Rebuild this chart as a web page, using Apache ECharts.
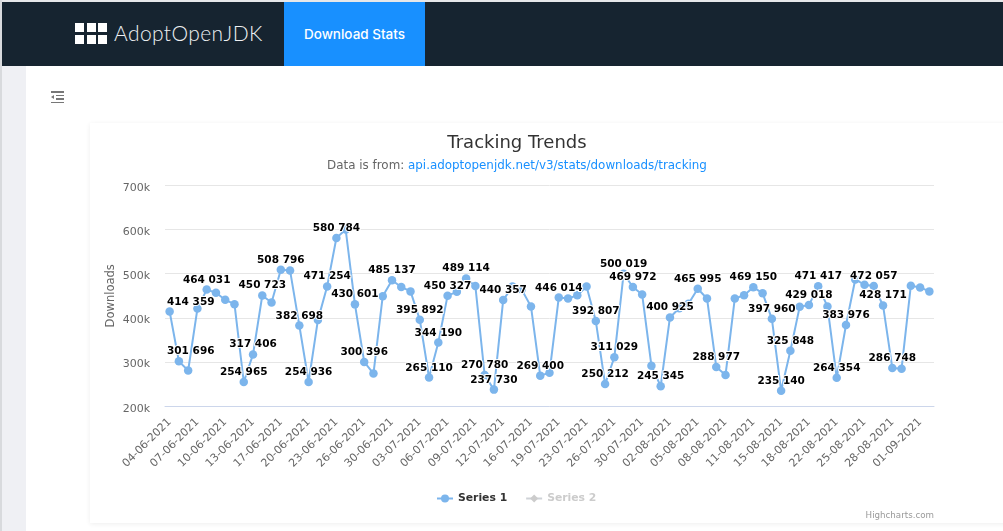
<!doctype html>
<html>
<head>
    <meta charset="utf-8">
    <style>
        html, body { margin: 0; width: 100%; height: 100%; overflow: hidden; background: #fff; }
        #strip { position: absolute; left: 0; top: 0; width: 2px; height: 531px; background: #d8dadd; }
        #side { position: absolute; left: 2px; top: 66px; width: 24px; height: 465px; background: #eff0f4; }
        #head { position: absolute; left: 2px; top: 2px; width: 1001px; height: 64px; background: #162430; }
        #topline { position: absolute; left: 0; top: 0; width: 1003px; height: 2px; background: #e6e7e9; }
        #tab { position: absolute; left: 282px; top: 0; width: 141px; height: 64px; text-align: center;
               background: #1890ff; color: #fff; font: 500 13.5px/64px Inter, Roboto, sans-serif; }
        #brand { position: absolute; left: 112px; top: 0; line-height: 62px; color: #eef1f3;
                 font-family: Lato, sans-serif; font-weight: 300; font-size: 21px; letter-spacing: .4px; }
        .sq { position: absolute; width: 9px; height: 9px; background: #fff; }
        #menu { position: absolute; left: 51px; top: 91px; width: 13px; height: 12px; }
        #menu i { position: absolute; height: 1.5px; background: #777; right: 0; }
        #menu b { position: absolute; left: 0; top: 4px; width: 0; height: 0; border: 2.5px solid transparent;
                  border-left: 0; border-right: 3px solid #777; }
        #card { position: absolute; left: 90px; top: 123px; width: 930px; height: 400px; background: #fff;
                box-shadow: 0 1px 5px rgba(0,0,0,.07); }
        #container { position: absolute; left: 0; top: 0; width: 1003px; height: 531px; }
    </style>
</head>
<body>
    <div id="topline"></div>
    <div id="strip"></div>
    <div id="side"></div>
    <div id="head">
        <div class="sq" style="left:73px;top:21px"></div>
        <div class="sq" style="left:85px;top:21px"></div>
        <div class="sq" style="left:96px;top:21px"></div>
        <div class="sq" style="left:73px;top:33px"></div>
        <div class="sq" style="left:85px;top:33px"></div>
        <div class="sq" style="left:96px;top:33px"></div>
        <div id="brand">AdoptOpenJDK</div>
        <div id="tab">Download Stats</div>
    </div>
    <div id="menu">
        <i style="top:0;width:13px"></i><i style="top:3.5px;width:8px"></i><i style="top:7px;width:8px"></i><i style="top:10.5px;width:13px"></i><b></b>
    </div>
    <div id="card"></div>
    <div id="container"></div>
    <script src="https://cdn.jsdelivr.net/npm/echarts@6/dist/echarts.min.js"></script>
    <script type="text/javascript">
        var tickLabels = ['04-06-2021', '07-06-2021', '10-06-2021', '13-06-2021', '17-06-2021', '20-06-2021', '23-06-2021',
            '26-06-2021', '30-06-2021', '03-07-2021', '06-07-2021', '09-07-2021', '12-07-2021', '16-07-2021', '19-07-2021',
            '23-07-2021', '26-07-2021', '30-07-2021', '02-08-2021', '05-08-2021', '08-08-2021', '11-08-2021', '15-08-2021',
            '18-08-2021', '22-08-2021', '25-08-2021', '28-08-2021', '01-09-2021'];

        var series1 = [414359, 301696, 281000, 421000, 464031, 457000, 441000, 431000, 254965, 317406,
            450723, 435000, 508796, 507000, 382698, 254936, 395000, 471254, 580784, 600000,
            430601, 300396, 274000, 449000, 485137, 470000, 460000, 395892, 265110, 344190,
            450327, 459000, 489114, 472000, 270780, 237730, 440357, 471000, 464000, 426000,
            269400, 276000, 446014, 444000, 451000, 471000, 392807, 250212, 311029, 500019,
            469972, 453000, 292000, 245345, 400925, 422000, 432000, 465995, 444000, 288977,
            271000, 444000, 451000, 469150, 456000, 397960, 235140, 325848, 425000, 429018,
            471417, 426000, 264354, 383976, 487000, 475000, 472057, 428171, 286748, 285000,
            473000, 469000, 460000];
        var series2 = [];

        // only these points show a value label in the original
        var labelled = [0, 1, 4, 8, 9, 10, 12, 14, 15, 17, 18, 20, 21, 24, 27, 28, 29, 30, 32, 34, 35, 36, 40, 42,
            46, 47, 48, 49, 50, 53, 54, 57, 59, 63, 65, 66, 67, 69, 70, 72, 73, 76, 77, 78];

        var categories = series1.map(function (v, i) {
            return i % 3 === 0 && tickLabels[i / 3] ? tickLabels[i / 3] : '';
        });

        var plotLeft = 165;
        var font = '"DejaVu Sans", sans-serif';

        var myChart = echarts.init(document.getElementById('container'));
        var option = {
            animation: false,
            textStyle: { fontFamily: font },
            title: [
                {
                    text: 'Tracking Trends', left: 517, top: 134, textAlign: 'center', padding: 0,
                    textStyle: { fontSize: 18, fontWeight: 'normal', color: '#333', fontFamily: font }
                },
                {
                    text: '{a|Data is from: }{b|api.adoptopenjdk.net/v3/stats/downloads/tracking}',
                    left: 517, top: 160, textAlign: 'center', padding: 0,
                    textStyle: {
                        fontWeight: 'normal',
                        rich: {
                            a: { fontSize: 11.9, fontWeight: 'normal', color: '#666', fontFamily: font },
                            b: { fontSize: 11.9, fontWeight: 'normal', color: '#1890ff', fontFamily: font }
                        }
                    }
                },
                {
                    text: 'Highcharts.com', left: 934, top: 511, textAlign: 'right', padding: 0,
                    textStyle: { fontSize: 8.7, fontWeight: 'normal', color: '#999', fontFamily: font }
                }
            ],
            legend: {
                left: 431, top: 488, itemWidth: 16, itemHeight: 10, itemGap: 18,
                data: ['Series 1', 'Series 2'],
                selected: { 'Series 1': true, 'Series 2': false },
                inactiveColor: '#ccc',
                textStyle: { fontSize: 10.8, fontWeight: 'bold', color: '#333', fontFamily: font }
            },
            grid: { left: plotLeft, top: 185.3, width: 769, height: 221 },
            xAxis: {
                type: 'category',
                data: categories,
                boundaryGap: true,
                axisLine: { lineStyle: { color: '#ccd6eb' } },
                axisTick: { show: false },
                axisLabel: {
                    interval: 2, rotate: 45, margin: 14, fontSize: 11, color: '#666',
                    showMinLabel: true, hideOverlap: false
                }
            },
            yAxis: {
                type: 'value',
                min: 200000,
                max: 700000,
                interval: 100000,
                name: 'Downloads',
                nameLocation: 'middle',
                nameGap: 48,
                nameMoveOverlap: false,
                nameTextStyle: { fontSize: 11.5, color: '#666' },
                axisLine: { show: false },
                axisTick: { show: false },
                splitLine: { lineStyle: { color: '#e6e6e6' } },
                axisLabel: {
                    margin: 15, fontSize: 11, color: '#666', verticalAlign: 'top', lineHeight: 5,
                    formatter: function (v) { return v / 1000 + 'k'; }
                }
            },
            series: [
                {
                    name: 'Series 1',
                    type: 'line',
                    data: series1,
                    symbol: 'circle',
                    symbolSize: 8.5,
                    showAllSymbol: true,
                    clip: false,
                    lineStyle: { color: '#7cb5ec', width: 2 },
                    itemStyle: { color: '#7cb5ec' },
                    label: {
                        show: true,
                        position: 'top',
                        distance: 0,
                        fontSize: 10.5,
                        fontWeight: 'bold',
                        color: '#000',
                        textBorderColor: '#fff',
                        textBorderWidth: 2,
                        fontFamily: font,
                        formatter: function (p) {
                            if (labelled.indexOf(p.dataIndex) < 0) return '';
                            var s = String(p.value);
                            return s.slice(0, 3) + ' ' + s.slice(3);
                        }
                    },
                    labelLayout: function (p) {
                        // labels are pushed back inside the plot on the left edge
                        return p.labelRect.x < plotLeft + 1 ? { dx: plotLeft + 1 - p.labelRect.x } : {};
                    }
                },
                {
                    name: 'Series 2',
                    type: 'line',
                    data: series2,
                    symbol: 'diamond',
                    symbolSize: 8,
                    lineStyle: { color: '#434348', width: 2 },
                    itemStyle: { color: '#434348' }
                }
            ]
        };
        myChart.setOption(option, true);
    </script>
</body>
</html>
